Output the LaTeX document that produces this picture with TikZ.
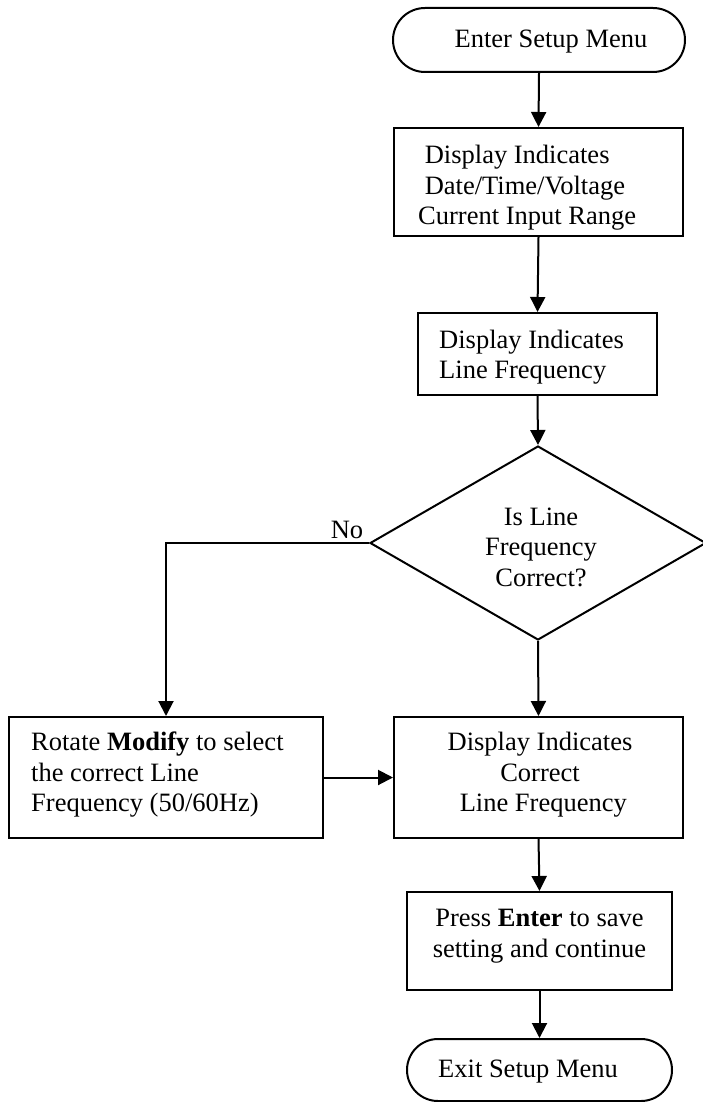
\documentclass[tikz,border=0pt]{standalone}
\usepackage{fontspec}
\setmainfont{Liberation Serif}
\usetikzlibrary{arrows.meta,shapes.geometric,shapes.misc}
\begin{document}
\begin{tikzpicture}[x=1pt,y=-1pt,
  every node/.style={font=\fontsize{26.5}{30.5}\selectfont},
  box/.style={draw,line width=2pt,rectangle,inner sep=0pt},
  term/.style={draw,line width=2pt,rounded rectangle,inner sep=0pt},
  txt/.style={inner sep=0pt,align=left},
  ctxt/.style={inner sep=0pt,align=center},
  flow/.style={line width=2pt,-{Triangle[width=15pt,length=15pt]}}]
\path[use as bounding box] (0,0) rectangle (702,1102);
% start
\node[term,minimum width=292pt,minimum height=64pt] (start) at (539,40) {};
\node[ctxt] (starttxt) at (551,42) {Enter Setup Menu};
% box1
\node[box,minimum width=289pt,minimum height=108pt] (b1) at (538.5,182) {};
\node[txt,anchor=west] (b1t) at (418,188) {\ Display Indicates\\ \ Date/Time/Voltage\\Current Input Range};
% box2
\node[box,minimum width=239pt,minimum height=82pt] (b2) at (537.5,354) {};
\node[txt,anchor=west] (b2t) at (439,357) {Display Indicates\\Line Frequency};
% diamond
\node[draw,line width=2pt,diamond,aspect=1.73,minimum width=336pt,minimum height=194pt,inner sep=0pt] (dec) at (538,543) {};
\node[ctxt] (dect) at (541,547) {Is Line\\Frequency\\Correct?};
% left box
\node[box,minimum width=314pt,minimum height=121pt] (lb) at (166,777.5) {};
\node[txt,anchor=west] (lbt) at (31,775) {Rotate \textbf{Modify} to select\\the correct Line\\Frequency (50/60Hz)};
% right box
\node[box,minimum width=289pt,minimum height=121pt] (rb) at (538.5,777.5) {};
\node[ctxt] (rbt) at (540,775) {Display Indicates\\Correct\\\ Line Frequency};
% enter box
\node[box,minimum width=265pt,minimum height=98pt] (eb) at (539.5,941) {};
\node[ctxt] (ebt) at (539.5,936) {Press \textbf{Enter} to save\\setting and continue};
% exit
\node[term,minimum width=265pt,minimum height=62pt] (ex) at (539.5,1070) {};
\node[ctxt] (ext) at (528,1072) {Exit Setup Menu};
% connectors
\draw[flow] (start.south) -- (b1.north);
\draw[flow] (b1.south) -- (b2.north);
\draw[flow] (b2.south) -- (dec.north);
\draw[flow] (dec.west) -| (lb.north);
\node[inner sep=0pt,anchor=south] (no) at (347,539) {No};
\draw[flow] (dec.south) -- (rb.north);
\draw[flow] (lb.east) -- (rb.west);
\draw[flow] (rb.south) -- (eb.north);
\draw[flow] (eb.south) -- (ex.north);
\end{tikzpicture}
\end{document}
